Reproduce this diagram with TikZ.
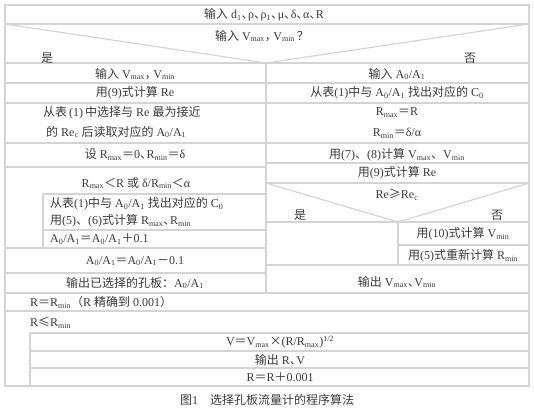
\documentclass[tikz,border=0pt]{standalone}
\usepackage{fontspec}
\setmainfont{Liberation Serif}
\newfontfamily\cjk{Noto Sans CJK SC}
\definecolor{lc}{HTML}{D4D4D4}
\definecolor{tc}{HTML}{3A3A3A}
\newcommand{\sbs}[1]{\textsubscript{#1}}
\newcommand{\zh}[1]{{\cjk #1}}
\newcommand{\eqz}{\zh{＝}}
\newcommand{\dn}{\zh{、}\kern-0.45em}
\begin{document}
\begin{tikzpicture}[x=1pt,y=-1pt,
  ln/.style={draw=lc,line width=1.2pt},
  t/.style={text=tc,font=\fontsize{12}{14}\selectfont,inner sep=0pt,anchor=center},
  tw/.style={t,anchor=west}]
\useasboundingbox (0,0) rectangle (534,412);
% outer frame and main structure
\draw[ln] (5,5) rectangle (529,386);
\draw[ln] (5,24) -- (529,24);
\draw[ln] (5,24) -- (266,63) -- (529,24);
\draw[ln] (5,63) -- (529,63);
\draw[ln] (266,63) -- (266,293);
% left column
\foreach \yy in {83,103,143,167,248,273} \draw[ln] (5,\yy) -- (266,\yy);
\draw[ln] (43,194) -- (266,194);
\draw[ln] (43,194) -- (43,248);
\draw[ln] (43,230) -- (266,230);
% right column
\foreach \yy in {83,103,143,163,183,222,265} \draw[ln] (266,\yy) -- (529,\yy);
\draw[ln] (266,183) -- (398,222) -- (529,183);
\draw[ln] (398,222) -- (398,265);
\draw[ln] (398,245) -- (529,245);
% bottom
\draw[ln] (5,293) -- (529,293);
\draw[ln] (5,311) -- (529,311);
\draw[ln] (30,333) -- (529,333);
\draw[ln] (30,333) -- (30,386);
\draw[ln] (30,351) -- (529,351);
\draw[ln] (30,368) -- (529,368);
% texts
\node[t] (n1) at (264,15) {\zh{输入} d\sbs{1}\dn ρ\dn ρ\sbs{1}\dn μ\dn δ\dn α\dn R};
\node[t] (q1) at (262,36) {\zh{输入} V\sbs{max}\zh{，}\kern-0.3em V\sbs{min}\,\zh{？}};
\node[t] (y1) at (47,58) {\zh{是}};
\node[t] (f1) at (470,58) {\zh{否}};
\node[t] (l1) at (135,74) {\zh{输入} V\sbs{max}\zh{，}\kern-0.3em V\sbs{min}};
\node[t] (l2) at (135,93) {\zh{用}(9)\zh{式计算} Re};
\node[tw] (l3) at (43,113) {\zh{从表}\,(1)\,\zh{中选择与} Re \zh{最为接近}};
\node[tw] (l4) at (46,132) {\zh{的} Re\sbs{c} \zh{后读取对应的} A\sbs{0}/A\sbs{1}};
\node[t] (l5) at (135,155) {\zh{设} R\sbs{max}\eqz0\dn R\sbs{min}\eqz δ};
\node[t] (l6) at (136,183) {R\sbs{max}\zh{＜}R \zh{或} δ/R\sbs{min}\zh{＜}α};
\node[tw] (l7) at (50,204) {\zh{从表}(1)\zh{中与} A\sbs{0}/A\sbs{1} \zh{找出对应的} C\sbs{0}};
\node[tw] (l8) at (50,221) {\zh{用}(5)\zh{、}(6)\zh{式计算} R\sbs{max}\dn R\sbs{min}};
\node[tw] (l9) at (50,239) {A\sbs{0}/A\sbs{1}\eqz A\sbs{0}/A\sbs{1}\zh{＋}0.1};
\node[t] (l10) at (135,261) {A\sbs{0}/A\sbs{1}\eqz A\sbs{0}/A\sbs{1}\zh{－}0.1};
\node[t] (l11) at (135,283) {\zh{输出已选择的孔板：}A\sbs{0}/A\sbs{1}};
\node[t] (r1) at (397,74) {\zh{输入} A\sbs{0}/A\sbs{1}};
\node[t] (r2) at (397,93) {\zh{从表}(1)\zh{中与} A\sbs{0}/A\sbs{1} \zh{找出对应的} C\sbs{0}};
\node[t] (r3) at (397,113) {R\sbs{max}\eqz R};
\node[t] (r4) at (397,133) {R\sbs{min}\eqz δ/α};
\node[t] (r5) at (397,155) {\zh{用}(7)\zh{、}(8)\zh{计算} V\sbs{max}\zh{、}V\sbs{min}};
\node[t] (r6) at (397,173) {\zh{用}(9)\zh{式计算} Re};
\node[t] (r7) at (397,195) {Re\zh{≥}Re\sbs{c}};
\node[t] (y2) at (300,215) {\zh{是}};
\node[t] (f2) at (497,215) {\zh{否}};
\node[t] (r8) at (463,234) {\zh{用}(10)\zh{式计算} V\sbs{min}};
\node[t] (r9) at (463,256) {\zh{用}(5)\zh{式重新计算} R\sbs{min}};
\node[t] (r10) at (397,282) {\zh{输出} V\sbs{max}\dn V\sbs{min}};
\node[tw] (b1) at (30,302) {R\eqz R\sbs{min}\zh{（}R \zh{精确到} 0.001\zh{）}};
\node[tw] (b2) at (30,323) {R\zh{≤}R\sbs{min}};
\node[t] (b3) at (280,342) {V\eqz V\sbs{max}\zh{×}(R/R\sbs{max})\textsuperscript{1/2}};
\node[t] (b4) at (280,360) {\zh{输出} R\dn V};
\node[t] (b5) at (280,377) {R\eqz R\zh{＋}0.001};
\node[t] (cap) at (267,400) {\zh{图}1\quad\zh{选择孔板流量计的程序算法}};
\end{tikzpicture}
\end{document}
